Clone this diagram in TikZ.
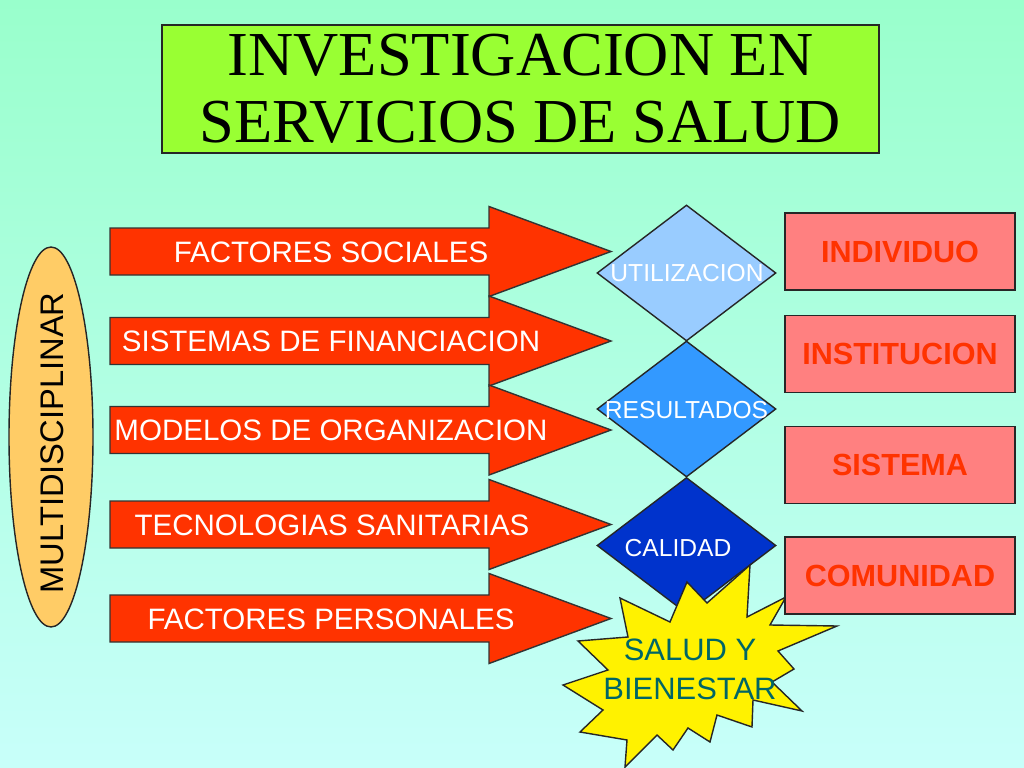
\documentclass[tikz,border=0pt]{standalone}
\usepackage{fontspec}
\setmainfont{Liberation Sans}
\newfontfamily\titlefont{Liberation Serif}
\usetikzlibrary{shapes.geometric}

\definecolor{bgtop}{HTML}{99FFCC}
\definecolor{bgbottom}{HTML}{C8FFFA}
\definecolor{titlegreen}{HTML}{99FF33}
\definecolor{arrowred}{HTML}{FF3300}
\definecolor{diamlight}{HTML}{99CCFF}
\definecolor{diammid}{HTML}{3399FF}
\definecolor{diamdark}{HTML}{0033CC}
\definecolor{boxpink}{HTML}{FF8080}
\definecolor{ovalorange}{HTML}{FFCC66}
\definecolor{starteal}{HTML}{006666}

\begin{document}
\begin{tikzpicture}[
  titlebox/.style={
    draw=black!85,
    fill=titlegreen,
    rectangle,
    align=center,
    inner sep=0pt,
    minimum width=7.17cm,
    minimum height=1.28cm,
    font=\titlefont\fontsize{17.8}{19.2}\selectfont
  },
  bigarrow/.style={
    draw=black!80,
    fill=arrowred,
    line width=0.4pt
  },
  arrowtext/.style={
    text=white,
    inner sep=0pt,
    font=\fontsize{8.4}{10}\selectfont
  },
  diam/.style={
    draw=black!85,
    diamond,
    inner sep=0pt,
    minimum width=1.79cm,
    minimum height=1.36cm
  },
  diamtext/.style={
    text=white,
    inner sep=0pt,
    font=\fontsize{7}{8}\selectfont
  },
  levelbox/.style={
    draw=black!85,
    fill=boxpink,
    rectangle,
    inner sep=0pt,
    minimum width=2.30cm,
    minimum height=0.77cm,
    text=arrowred,
    font=\bfseries\fontsize{8.7}{10}\selectfont
  }
]

% Background.
\shade[top color=bgtop, bottom color=bgbottom] (0,0) rectangle (10.24,-7.68);
\useasboundingbox (0,0) rectangle (10.24,-7.68);

% Title.
\node[titlebox] (title) at (5.205,-0.89) {INVESTIGACION EN\\SERVICIOS DE SALUD};

% Multidisciplinary oval.
\node[draw=black!85, fill=ovalorange, ellipse, minimum width=0.84cm,
  minimum height=3.80cm] (oval) at (0.51,-4.37) {};
\node[rotate=90, inner sep=0pt, font=\fontsize{9.3}{11}\selectfont]
  (ovaltext) at (0.525,-4.43) {MULTIDISCIPLINAR};

% Factor arrows.
\draw[bigarrow] (1.10,-2.28) -- (4.89,-2.28) -- (4.89,-2.065) -- (6.11,-2.515)
  -- (4.89,-2.965) -- (4.89,-2.75) -- (1.10,-2.75) -- cycle;
\draw[bigarrow] (1.10,-3.175) -- (4.89,-3.175) -- (4.89,-2.96) -- (6.11,-3.41)
  -- (4.89,-3.86) -- (4.89,-3.645) -- (1.10,-3.645) -- cycle;
\draw[bigarrow] (1.10,-4.065) -- (4.89,-4.065) -- (4.89,-3.85) -- (6.11,-4.30)
  -- (4.89,-4.75) -- (4.89,-4.535) -- (1.10,-4.535) -- cycle;
\draw[bigarrow] (1.10,-5.01) -- (4.89,-5.01) -- (4.89,-4.795) -- (6.11,-5.245)
  -- (4.89,-5.695) -- (4.89,-5.48) -- (1.10,-5.48) -- cycle;
\draw[bigarrow] (1.10,-5.95) -- (4.89,-5.95) -- (4.89,-5.735) -- (6.11,-6.185)
  -- (4.89,-6.635) -- (4.89,-6.42) -- (1.10,-6.42) -- cycle;

\node[arrowtext] (sociales) at (3.31,-2.52) {FACTORES SOCIALES};
\node[arrowtext] (financiacion) at (3.31,-3.41) {SISTEMAS DE FINANCIACION};
\node[arrowtext] (organizacion) at (3.31,-4.30) {MODELOS DE ORGANIZACION};
\node[arrowtext] (tecnologias) at (3.32,-5.25) {TECNOLOGIAS SANITARIAS};
\node[arrowtext] (personales) at (3.31,-6.19) {FACTORES PERSONALES};

% Outcome diamonds.
\node[diam, fill=diamlight] (utilizacion) at (6.865,-2.73) {};
\node[diam, fill=diammid] (resultados) at (6.865,-4.09) {};
\node[diam, fill=diamdark] (calidad) at (6.865,-5.455) {};

\node[diamtext] (utiltext) at (6.87,-2.73) {UTILIZACION};
\node[diamtext] (restext) at (6.865,-4.10) {RESULTADOS};
\node[diamtext] (caltext) at (6.78,-5.48) {CALIDAD};

% Health and wellbeing star.
\draw[draw=black!85, fill=yellow, line width=0.4pt]
  (7.50,-5.65) -- (7.47,-6.17) -- (7.86,-5.97) -- (7.70,-6.25)
  -- (8.37,-6.26) -- (7.78,-6.51) -- (7.94,-6.69) -- (7.72,-6.82)
  -- (8.02,-7.11) -- (7.53,-7.00) -- (7.52,-7.27) -- (7.17,-7.15)
  -- (7.10,-7.42) -- (6.88,-7.28) -- (6.73,-7.50) -- (6.57,-7.35)
  -- (6.25,-7.67) -- (6.27,-7.40) -- (5.80,-7.32) -- (6.03,-7.10)
  -- (5.63,-6.85) -- (6.08,-6.70) -- (5.78,-6.41) -- (6.28,-6.37)
  -- (6.20,-5.98) -- (6.70,-6.22) -- (6.87,-5.82) -- (7.07,-6.03)
  -- cycle;
\node[align=center, inner sep=0pt, text=starteal,
  font=\fontsize{8.8}{11.1}\selectfont] (salud) at (6.90,-6.69)
  {SALUD Y\\BIENESTAR};

% Levels of analysis.
\node[levelbox] (individuo) at (9.00,-2.515) {INDIVIDUO};
\node[levelbox] (institucion) at (9.00,-3.54) {INSTITUCION};
\node[levelbox] (sistema) at (9.00,-4.65) {SISTEMA};
\node[levelbox] (comunidad) at (9.00,-5.755) {COMUNIDAD};

\end{tikzpicture}
\end{document}
